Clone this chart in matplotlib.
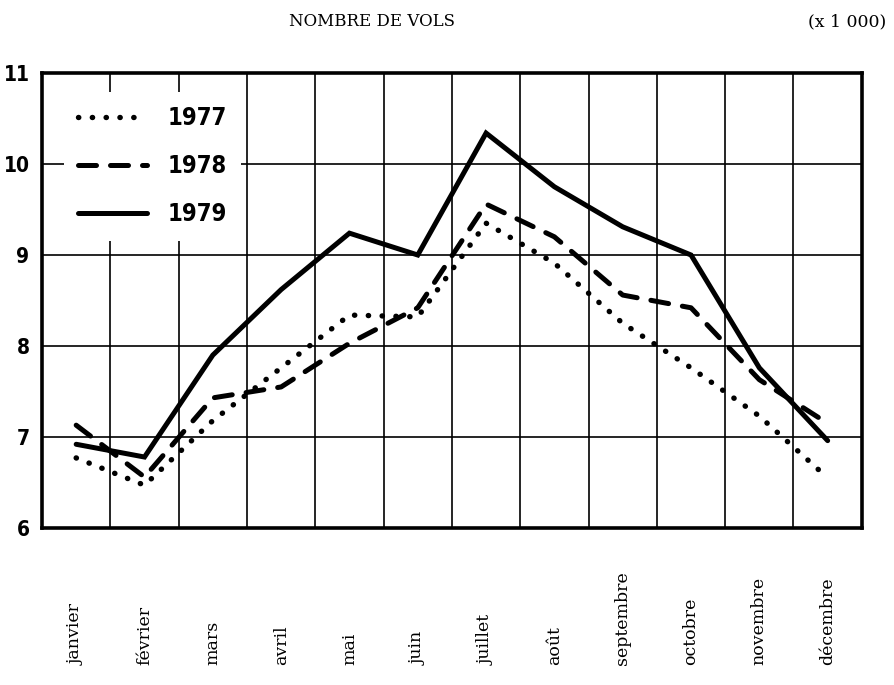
import numpy as np
import matplotlib.pyplot as plt
from matplotlib import font_manager
from matplotlib.transforms import blended_transform_factory

months = ["janvier", "février", "mars", "avril", "mai", "juin", "juillet",
          "août", "septembre", "octobre", "novembre", "décembre"]
vols_1977 = [6.77, 6.47, 7.18, 7.76, 8.34, 8.32, 9.35, 8.91, 8.25, 7.76, 7.23, 6.55]
vols_1978 = [7.13, 6.56, 7.43, 7.55, 8.03, 8.42, 9.56, 9.20, 8.56, 8.42, 7.63, 7.15]
vols_1979 = [6.92, 6.78, 7.90, 8.62, 9.24, 9.00, 10.34, 9.75, 9.31, 9.00, 7.76, 6.96]
yticks = [6, 7, 8, 9, 10, 11]

narrow = font_manager.FontProperties(family="DejaVu Sans", weight="bold",
                                     stretch="condensed", size=15)
legfont = font_manager.FontProperties(family="DejaVu Sans", weight="bold",
                                      stretch="condensed", size=17)
serif = ["DejaVu Serif"]

fig = plt.figure(figsize=(8.94, 6.85), dpi=100)
ax = fig.add_axes([0.047, 0.2292, 0.917, 0.6642])

x = np.arange(len(months)) + 0.5
ax.plot(x, vols_1977, color="black", lw=3.9, ls=(0, (0.05, 2.5)),
        dash_capstyle="round", label="1977")
ax.plot(x, vols_1978, color="black", lw=3.6, ls=(0, (3.6, 2.8)),
        dash_capstyle="round", label="1978")
ax.plot(x, vols_1979, color="black", lw=3.6, solid_capstyle="round",
        solid_joinstyle="miter", label="1979")

ax.set_xlim(0, 12)
ax.set_ylim(6, 11)
ax.set_xticks(np.arange(1, 12))
ax.set_xticklabels([])
ax.set_yticks(yticks)
ax.set_yticklabels([str(v) for v in yticks])
for lab in ax.get_yticklabels():
    lab.set_fontproperties(narrow)
ax.tick_params(axis="both", length=0)
ax.tick_params(axis="y", pad=9)
ax.grid(True, color="black", lw=1.2)
ax.set_axisbelow(True)
for s in ax.spines.values():
    s.set_linewidth(2.6)

leg = ax.legend(loc="upper left", bbox_to_anchor=(0.012, 0.985), frameon=True,
                handlelength=2.95, handletextpad=0.85, labelspacing=1.03,
                borderpad=0.6, prop=legfont)
leg.get_frame().set_edgecolor("none")
leg.get_frame().set_facecolor("white")
leg.get_frame().set_alpha(1)

trans = blended_transform_factory(ax.transData, fig.transFigure)
for xi, m in zip(x, months):
    ax.text(xi, 1 - 665 / 685, m, transform=trans, rotation=90, ha="center",
            va="bottom", fontsize=12.5, fontfamily=serif)

fig.text(372 / 894, 1 - 22 / 685, "NOMBRE DE VOLS", ha="center", va="center",
         fontsize=12, fontfamily=serif)
fig.text(847 / 894, 1 - 22 / 685, "(x 1 000)", ha="center", va="center",
         fontsize=12.5, fontfamily=serif)

fig.savefig("out.png", dpi=100)
